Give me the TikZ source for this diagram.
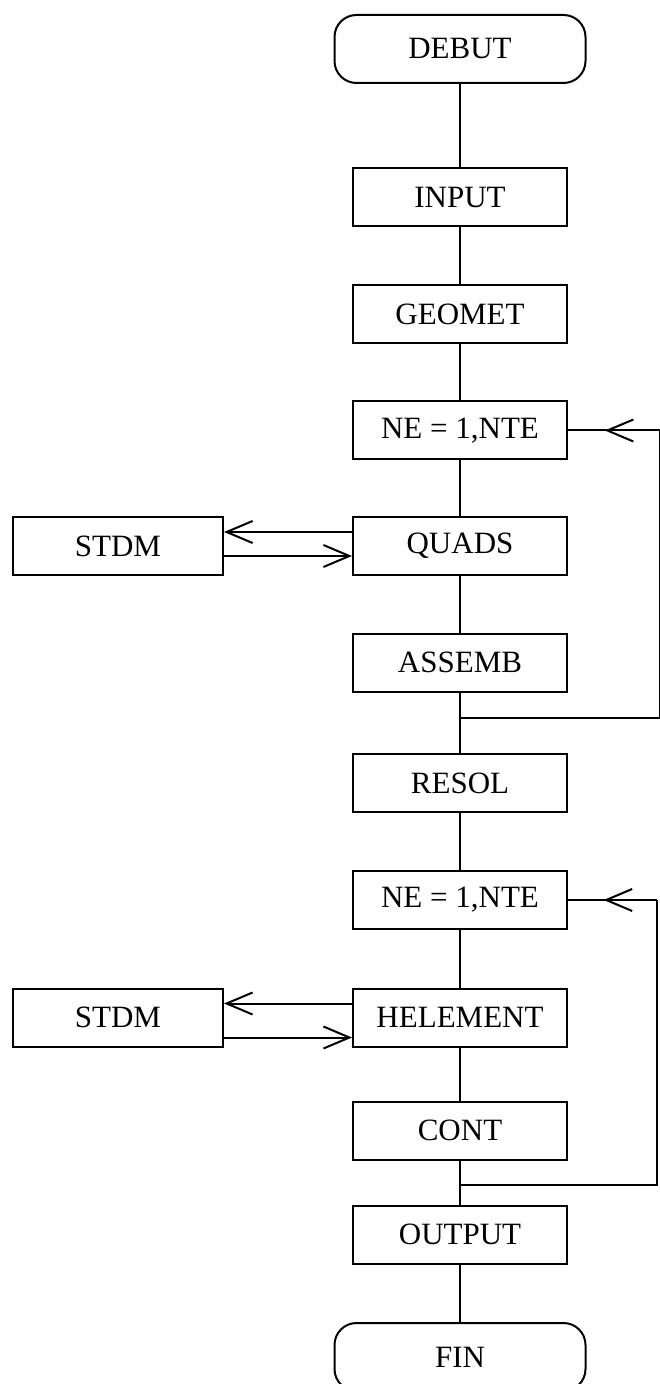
\documentclass[tikz,border=0pt]{standalone}
\usepackage{fontspec}
\setmainfont{Liberation Serif}
\usetikzlibrary{arrows.meta, decorations.markings}
\definecolor{FlowBlack}{HTML}{000000}
\definecolor{FlowWhite}{HTML}{FFFFFF}
\tikzset{
    prog/.style={
        draw=FlowBlack,
        fill=FlowWhite,
        line width=1pt,
        minimum width=107pt,
        minimum height=29pt,
        text=FlowBlack,
        font=\fontsize{15.5}{18}\selectfont,
        align=center,
        inner sep=2pt
    },
    terminal/.style={
        prog,
        rounded corners=11pt,
        minimum width=125.5pt,
        minimum height=34pt
    },
    link/.style={
        line width=1pt,
        FlowBlack
    },
    arrow/.style={
        link,
        -{Straight Barb[length=13pt, width=11pt]}
    },
    backarrow/.style={
        link,
        postaction={decorate},
        decoration={markings, mark=at position 0.6 with {\arrow{Straight Barb[length=13pt, width=11pt]}}}
    }
}

\begin{document}
\begin{tikzpicture}[x=0.5pt, y=-0.5pt]
        \useasboundingbox (0,0) rectangle (659,1384);
        \fill[FlowWhite] (0,0) rectangle (659,1384);

        % Main column
        \node[terminal] (debut) at (460,49) {DEBUT};
        \node[prog] (input) at (460,197.5) {INPUT};
        \node[prog] (geomet) at (460,314) {GEOMET};
        \node[prog] (ne1) at (460,430.5) {NE = 1,NTE};
        \node[prog] (quads) at (460,546) {QUADS};
        \node[prog] (assemb) at (460,662.5) {ASSEMB};
        \node[prog] (resol) at (460,783) {RESOL};
        \node[prog] (ne2) at (460,900) {NE = 1,NTE};
        \node[prog] (helement) at (460,1017.5) {HELEMENT};
        \node[prog] (cont) at (460,1130.5) {CONT};
        \node[prog] (output) at (460,1234.5) {OUTPUT};
        \node[terminal] (fin) at (460,1357) {FIN};

        % Side calls
        \node[prog, minimum width=105pt] (stdm1) at (118,546) {STDM};
        \node[prog, minimum width=105pt] (stdm2) at (118,1017.5) {STDM};

        % Vertical links
        \draw[link] (debut) -- (input);
        \draw[link] (input) -- (geomet);
        \draw[link] (geomet) -- (ne1);
        \draw[link] (ne1) -- (quads);
        \draw[link] (quads) -- (assemb);
        \draw[link] (assemb) -- (resol);
        \draw[link] (resol) -- (ne2);
        \draw[link] (ne2) -- (helement);
        \draw[link] (helement) -- (cont);
        \draw[link] (cont) -- (output);
        \draw[link] (output) -- (fin);

        % Calls to STDM
        \draw[arrow] ([yshift=7pt]quads.west) -- ([yshift=7pt]stdm1.east);
        \draw[arrow] ([yshift=-5pt]stdm1.east) -- ([yshift=-5pt]quads.west);
        \draw[arrow] ([yshift=7pt]helement.west) -- ([yshift=7pt]stdm2.east);
        \draw[arrow] ([yshift=-10pt]stdm2.east) -- ([yshift=-10pt]helement.west);

        % First loop
        \coordinate (j1) at (460,718);
        \coordinate (r1b) at (660,718);
        \coordinate (r1t) at (660,430.5);
        \draw[link] (j1) -- (r1b) -- (r1t);
        \draw[backarrow] (r1t) -- (ne1.east);

        % Second loop
        \coordinate (j2) at (460,1185);
        \coordinate (r2b) at (657,1185);
        \coordinate (r2t) at (657,900);
        \draw[link] (j2) -- (r2b) -- (r2t);
        \draw[backarrow] (r2t) -- (ne2.east);
    \end{tikzpicture}
\end{document}
